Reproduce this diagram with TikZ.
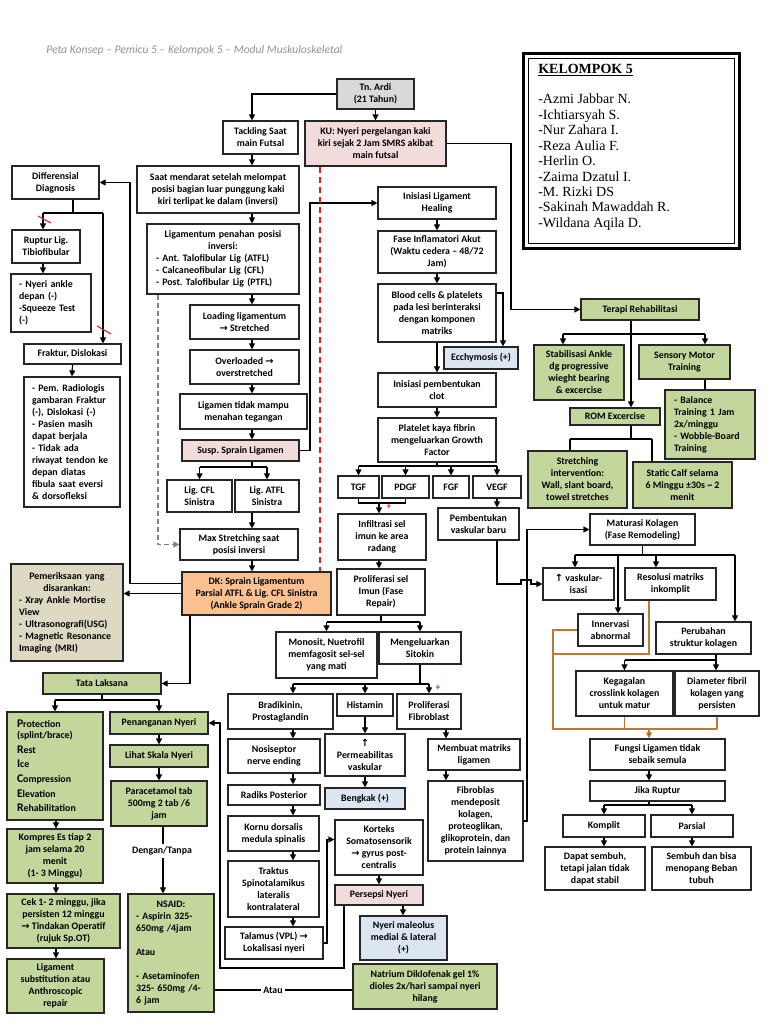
\documentclass[tikz,border=0pt]{standalone}
\usepackage{fontspec}
\setmainfont{Carlito}
\newfontfamily\serifnames{Liberation Serif}
\newfontfamily\symfont{DejaVu Sans}
\usetikzlibrary{arrows.meta,calc}
\definecolor{cgray}{HTML}{D9D9D9}
\definecolor{cpink}{HTML}{F2DCDB}
\definecolor{corange}{HTML}{FAC090}
\definecolor{ctan}{HTML}{DDD9C3}
\definecolor{cgreen}{HTML}{C3D69B}
\definecolor{cblue}{HTML}{DCE6F2}
\definecolor{cbrown}{HTML}{C0773A}
\definecolor{cbrownd}{HTML}{984807}
\definecolor{cred}{HTML}{E02020}
\frenchspacing
\newcommand\rarr{{\symfont →}}
\newcommand\uarr{{\symfont ↑}}
\newcommand\capl[1]{{\fontsize{8.8}{9}\selectfont #1}}
\tikzset{
 box/.style={draw=black!85, line width=0.9pt, fill=white, inner sep=1pt, align=center,
   font=\fontsize{7.4}{9}\selectfont\bfseries\frenchspacing},
 gbox/.style={fill=cgreen},
 pbox/.style={fill=cpink},
 bbox/.style={fill=cblue},
 obox/.style={fill=corange},
 tbox/.style={fill=ctan},
 graybox/.style={fill=cgray},
 ln/.style={draw=black, line width=0.9pt},
 arr/.style={draw=black, line width=0.9pt, -{Triangle[length=4.5pt,width=4.5pt]}},
 darr/.style={draw=black!50, line width=0.9pt, dash pattern=on 4pt off 2pt, -{Triangle[length=4.5pt,width=4.5pt]}},
 rdash/.style={draw=cred, line width=0.9pt, dash pattern=on 5pt off 2.5pt},
 brn/.style={draw=cbrown, line width=0.9pt},
 brnarr/.style={draw=cbrown, line width=0.9pt, -{Triangle[length=4.5pt,width=4.5pt,fill=cbrownd]}},
 lbl/.style={inner sep=1.5pt, font=\fontsize{7.4}{9}\selectfont\bfseries},
 plus/.style={text=cred, inner sep=0pt, font=\fontsize{7}{7}\selectfont\bfseries},
}
% [opts]{name}{x1}{y1}{x2}{y2}{text}
\newcommand\bx[7][]{%
 \pgfmathsetmacro\myW{(#5-#3)*0.75}\pgfmathsetmacro\myH{(#6-#4)*0.75}%
 \pgfmathsetmacro\myX{(#3+#5)/2}\pgfmathsetmacro\myY{(#4+#6)/2}%
 \node[box,#1,minimum width=\myW pt,minimum height=\myH pt] (#2) at (\myX,\myY) {#7};}
% [opts]{name}{x1}{y1}{x2}{y2}{sep}{text}
\newcommand\lbx[8][]{%
 \pgfmathsetmacro\myW{(#5-#3)*0.75}\pgfmathsetmacro\myH{(#6-#4)*0.75}%
 \pgfmathsetmacro\myX{(#3+#5)/2}\pgfmathsetmacro\myY{(#4+#6)/2}%
 \pgfmathsetmacro\myS{#7*0.75}\pgfmathsetmacro\myT{((#5-#3)-2*#7)*0.75}%
 \node[box,#1,align=left,inner xsep=\myS pt,text width=\myT pt,minimum width=\myW pt,minimum height=\myH pt] (#2) at (\myX,\myY) {#8};}
\begin{document}
\begin{tikzpicture}[x=0.75pt,y=-0.75pt]
\fill[white] (0,0) rectangle (768,1024);
\useasboundingbox (0,0) rectangle (768,1024);

\node[anchor=west, inner sep=0pt, font=\fontsize{8.7}{10}\selectfont\itshape, text=black!42] (hdr) at (46,50)
 {Peta Konsep – Pemicu 5 – Kelompok 5 – Modul Muskuloskeletal};

% Kelompok box
\draw[line width=2.3pt] (523.5,53.5) rectangle (739.5,248.5);
\draw[line width=0.7pt] (528.5,58.5) rectangle (734.5,243.5);
\node[anchor=north west, align=left, inner sep=0pt, font=\serifnames\fontsize{10.5}{11.6}\selectfont] (kel) at (538,64)
 {\textbf{\underline{KELOMPOK 5}}\\[11pt]-Azmi Jabbar N.\\-Ichtiarsyah S.\\-Nur Zahara I.\\-Reza Aulia F.\\-Herlin O.\\-Zaima Dzatul I.\\-M. Rizki DS\\-Sakinah Mawaddah R.\\-Wildana Aqila D.};

% ---------- boxes ----------
\bx[graybox]{tn}{337}{79}{414}{109}{Tn. Ardi\\(21 Tahun)}
\bx{tack}{223}{121}{298}{154}{Tackling Saat\\main Futsal}
\bx[pbox]{ku}{305}{121}{446}{166}{KU: Nyeri pergelangan kaki\\kiri sejak 2 Jam SMRS akibat\\main futsal}
\bx{saat}{137}{166}{299}{213}{Saat mendarat setelah melompat\\posisi bagian luar punggung kaki\\kiri terlipat ke dalam (inversi)}
\bx{diff}{12}{166}{99}{199}{Differensial\\Diagnosis}
\bx{rupt}{12}{230}{80}{263}{Ruptur Lig.\\Tibiofibular}
\lbx{nyank}{11}{274}{91}{332}{8}{- Nyeri ankle\\depan (-)\\-Squeeze Test\\(-)}
\bx{frak}{24}{344}{121}{364}{Fraktur, Dislokasi}
\lbx{pem}{24}{377}{120}{507}{8}{- Pem. Radiologis\\gambaran Fraktur\\(-), Dislokasi (-)\\- Pasien masih\\dapat berjala\\- Tidak ada\\riwayat tendon ke\\depan diatas\\fibula saat eversi\\\& dorsofleksi}
\lbx{ligp}{147}{224}{299}{294}{9}{\makebox[\linewidth]{Ligamentum penahan posisi}\\\makebox[\linewidth]{inversi:}\\- Ant. Talofibular Lig (ATFL)\\- Calcaneofibular Lig (CFL)\\- Post. Talofibular Lig (PTFL)}
\bx{load}{190}{305}{299}{339}{Loading ligamentum\\\rarr{} Stretched}
\bx{over}{190}{350}{299}{384}{Overloaded \rarr\\overstretched}
\bx{ltm}{180}{394}{307}{429}{Ligamen tidak mampu\\menahan tegangan}
\bx[pbox]{susp}{182}{440}{299}{461}{Susp. Sprain Ligamen}
\bx{cfl}{167}{480}{232}{512}{Lig. CFL\\Sinistra}
\bx{atfl}{235}{480}{299}{512}{Lig. ATFL\\Sinistra}
\bx{maxs}{180}{529}{298}{560}{Max Stretching saat\\posisi inversi}
\bx[obox]{dk}{182}{572}{331}{615}{DK: Sprain Ligamentum\\Parsial ATFL \& Lig. CFL Sinistra\\(Ankle Sprain Grade 2)}
\lbx[tbox]{pmr}{11}{564}{123}{661}{8}{\makebox[\linewidth]{Pemeriksaan yang}\\\makebox[\linewidth]{disarankan:}\\- Xray Ankle Mortise\\View\\- Ultrasonografi(USG)\\- Magnetic Resonance\\Imaging (MRI)}
\bx[gbox]{tata}{43}{673}{161}{694}{Tata Laksana}
\lbx[gbox]{prot}{7}{712}{103}{820}{10}{\capl{P}rotection\\[-1pt](splint/brace)\\[2pt]\capl{R}est\\[2pt]\capl{I}ce\\[2pt]\capl{C}ompression\\[2pt]\capl{E}levation\\[2pt]\capl{R}ehabilitation}
\bx[gbox]{penn}{110}{712}{208}{734}{Penanganan Nyeri}
\bx[gbox]{lsn}{110}{745}{208}{767}{Lihat Skala Nyeri}
\bx[gbox]{para}{111}{781}{207}{826}{Paracetamol tab\\500mg 2 tab /6\\jam}
\lbx[gbox]{nsaid}{128}{894}{214}{1012}{8}{\makebox[\linewidth]{NSAID:}\\- Aspirin 325-\\650mg /4jam\\[9pt]Atau\\[9pt]- Asetaminofen\\325- 650mg /4-\\6 jam}
\bx[gbox]{komp}{7}{829}{103}{883}{Kompres Es tiap 2\\jam selama 20\\menit\\(1- 3 Minggu)}
\bx[gbox]{cek}{7}{894}{120}{948}{Cek 1- 2 minggu, jika\\persisten 12 minggu\\\rarr{} Tindakan Operatif\\(rujuk Sp.OT)}
\bx[gbox]{ligs}{7}{959}{104}{1013}{Ligament\\substitution atau\\Anthroscopic\\repair}
\bx[gbox]{natr}{353}{964}{497}{1009}{Natrium Diklofenak gel 1\%\\dioles 2x/hari sampai nyeri\\hilang}

\bx{ilh}{378}{187}{496}{219}{Inisiasi Ligament\\Healing}
\bx{fia}{378}{231}{496}{273}{Fase Inflamatori Akut\\(Waktu cedera – 48/72\\Jam)}
\bx{bcp}{378}{284}{496}{342}{Blood cells \& platelets\\pada lesi berinteraksi\\dengan komponen\\matriks}
\bx[bbox]{ecc}{444}{347}{518}{369}{Ecchymosis (+)}
\bx{ipc}{378}{373}{496}{407}{Inisiasi pembentukan\\clot}
\bx{pkf}{378}{418}{496}{462}{Platelet kaya fibrin\\mengeluarkan Growth\\Factor}
\bx{tgf}{338}{476}{379}{498}{TGF}
\bx{pdgf}{382}{476}{429}{498}{PDGF}
\bx{fgf}{433}{476}{469}{498}{FGF}
\bx{vegf}{473}{476}{521}{498}{VEGF}
\bx{inf}{338}{514}{426}{560}{Infiltrasi sel\\imun ke area\\radang}
\bx{psi}{337}{569}{425}{615}{Proliferasi sel\\Imun (Fase\\Repair)}
\bx{mon}{276}{632}{377}{678}{Monosit, Nuetrofil\\memfagosit sel-sel\\yang mati}
\bx{msit}{379}{632}{461}{664}{Mengeluarkan\\Sitokin}
\bx{brad}{228}{694}{333}{729}{Bradikinin,\\Prostaglandin}
\bx{hist}{337}{694}{393}{716}{Histamin}
\bx{pfib}{397}{694}{461}{729}{Proliferasi\\Fibroblast}
\bx{nos}{228}{739}{320}{773}{Nosiseptor\\nerve ending}
\bx{perm}{325}{734}{405}{776}{\uarr\\Permeabilitas\\vaskular}
\bx[bbox]{beng}{325}{788}{405}{809}{Bengkak (+)}
\bx{mml}{428}{739}{520}{770}{Membuat matriks\\ligamen}
\bx{fbm}{428}{781}{523}{861}{Fibroblas\\mendeposit\\kolagen,\\proteoglikan,\\glikoprotein, dan\\protein lainnya}
\bx{rad}{228}{785}{320}{805}{Radiks Posterior}
\bx{korn}{228}{816}{319}{851}{Kornu dorsalis\\medula spinalis}
\bx{trak}{228}{861}{319}{917}{Traktus\\Spinotalamikus\\lateralis\\kontralateral}
\bx{tal}{225}{927}{323}{959}{Talamus (VPL) \rarr\\Lokalisasi nyeri}
\bx{kort}{335}{820}{423}{875}{Korteks\\Somatosensorik\\\rarr{} gyrus post-\\centralis}
\bx[pbox]{pers}{335}{885}{423}{905}{Persepsi Nyeri}
\bx[bbox]{nml}{360}{916}{447}{960}{Nyeri maleolus\\medial \& lateral\\(+)}
\bx{pvb}{438}{508}{519}{540}{Pembentukan\\vaskular baru}

\bx{mk}{590}{514}{695}{545}{Maturasi Kolagen\\(Fase Remodeling)}
\bx{vask}{543}{568}{614}{600}{\uarr{} vaskular-\\isasi}
\bx{res}{625}{568}{716}{600}{Resolusi matriks\\inkomplit}
\bx{inn}{578}{614}{643}{646}{Innervasi\\abnormal}
\bx{pstr}{656}{622}{751}{654}{Perubahan\\struktur kolagen}
\bx{keg}{576}{671}{673}{716}{Kegagalan\\crosslink kolagen\\untuk matur}
\bx{diam}{675}{671}{759}{716}{Diameter fibril\\kolagen yang\\persisten}
\bx{fung}{590}{739}{725}{770}{Fungsi Ligamen tidak\\sebaik semula}
\bx{jr}{590}{781}{725}{801}{Jika Ruptur}
\bx{kom}{563}{815}{645}{837}{Komplit}
\bx{par}{651}{815}{733}{837}{Parsial}
\bx{dps}{545}{847}{645}{890}{Dapat sembuh,\\tetapi jalan tidak\\dapat stabil}
\bx{sdb}{652}{847}{751}{890}{Sembuh dan bisa\\menopang Beban\\tubuh}

\bx[gbox]{ter}{581}{299}{699}{320}{Terapi Rehabilitasi}
\bx[gbox]{stab}{534}{345}{624}{400}{Stabilisasi Ankle\\dg progressive\\wieght bearing\\\& excercise}
\bx[gbox]{smt}{639}{345}{730}{379}{Sensory Motor\\Training}
\lbx[gbox]{bal}{665}{390}{755}{459}{9}{- Balance\\Training 1 Jam\\2x/minggu\\- Wobble-Board\\Training}
\bx[gbox]{rom}{570}{408}{660}{425}{ROM Excercise}
\bx[gbox]{str}{528}{451}{627}{508}{Stretching\\intervention:\\Wall, slant board,\\towel stretches}
\bx[gbox]{scf}{633}{462}{732}{508}{Static Calf selama\\6 Minggu ±30s \textasciitilde{} 2\\menit}

% ---------- helper coordinates ----------
\coordinate (cA) at (252,0);
\coordinate (cB) at (130,0);
\coordinate (cD) at (158,0);
\coordinate (cE) at (310,0);
\coordinate (cF) at (190,0);
\coordinate (cH) at (56,0);
\coordinate (cI) at (163,0);
\coordinate (cJ) at (344,0);
\coordinate (cK) at (511,0);
\coordinate (cL) at (220,0);
\coordinate (cM) at (503,0);
\coordinate (cN) at (379,0);
\coordinate (cP) at (521,0);
\coordinate (cQ) at (527,0);
\coordinate (cS) at (293,0);
\coordinate (cT) at (446,0);
\coordinate (cU) at (327,0);
\coordinate (cV) at (403,0);
\coordinate (cR) at (320,0);
\coordinate (c43) at (43,0);
\coordinate (c73) at (73,0);
\coordinate (c103) at (103,0);
\coordinate (c553) at (553,0);
\coordinate (c563) at (563,0);
\coordinate (c570) at (570,0);
\coordinate (c575) at (575,0);
\coordinate (c618) at (618,0);
\coordinate (c631) at (631,0);
\coordinate (c649) at (649,0);
\coordinate (c652) at (652,0);
\coordinate (c656) at (656,0);
\coordinate (c705) at (705,0);
\coordinate (c716) at (716,0);
\coordinate (c735) at (735,0);
\coordinate (rD) at (0,213);
\coordinate (rS) at (0,467);
\coordinate (rG) at (0,700);
\coordinate (rK) at (0,968);
\coordinate (rP) at (0,466);
\coordinate (rN) at (0,503);
\coordinate (rQ) at (0,622);
\coordinate (rR) at (0,684);
\coordinate (rW) at (0,555);
\coordinate (rX) at (0,660);
\coordinate (rY) at (0,654);
\coordinate (rZ) at (0,729);
\coordinate (rJ) at (0,805);
\coordinate (rT) at (0,334);
\coordinate (rU) at (0,439);

% ---------- left column ----------
\draw[arr] (tn.west) -| (tack.north -| cA);
\draw[arr] (tn.south) -- (ku.north);
\foreach \a/\b in {tack/saat, saat/ligp, ligp/load, load/over, over/ltm, ltm/susp}
  \draw[arr] (\a.south -| cA) -- (\b.north -| cA);
\draw[ln] (susp.south -| cA) -- (cA |- rS);
\draw[ln] (cfl.north |- rS) -- (atfl.north |- rS);
\draw[arr] (cfl.north |- rS) -- (cfl.north);
\draw[arr] (atfl.north |- rS) -- (atfl.north);
\draw[arr] (atfl.south -| cA) -- (maxs.north -| cA);
\draw[arr] (maxs.south -| cA) -- (dk.north -| cA);
\draw[darr] (ligp.south -| cD) |- (maxs.west);
\draw[arr] (susp.east) -- (cE |- susp.east) -- (cE |- ilh.west) -- (ilh.west);
\draw[rdash] (ku.south -| cR) -- (dk.north -| cR);
\draw[arr] (ku.east) -- (cK |- ku.east) -- (cK |- ter.west) -- (ter.west);
\draw[arr] (dk.west) -- (dk.west -| pmr.east);
\coordinate (dkw) at ([yshift=7.5pt]dk.west);
\draw[arr] (dkw) -- (cB |- dkw) -- (cB |- diff.east) -- (diff.east);
\draw[arr] (dk.south -| cF) |- (tata.east);

% differential
\draw[ln] (diff.south -| c73) -- (c73 |- rD);
\draw[ln] (c43 |- rD) -- (c103 |- rD);
\draw[arr] (c43 |- rD) -- (rupt.north -| c43);
\draw[arr] (c103 |- rD) -- (frak.north -| c103);
\draw[arr] (rupt.south -| c43) -- (nyank.north -| c43);
\draw[arr] (frak.south) -- (pem.north);
\draw[cred, line width=0.8pt] (38,216) -- (51,223);
\draw[cred, line width=0.8pt] (97,326) -- (111,334);

% tata laksana
\draw[ln] (tata.south) -- (tata.south |- rG);
\draw[ln] (prot.north |- rG) -- (penn.north |- rG);
\draw[arr] (prot.north |- rG) -- (prot.north);
\draw[arr] (penn.north |- rG) -- (penn.north);
\foreach \a/\b in {prot/komp, komp/cek, cek/ligs}
  \draw[arr] (\a.south -| cH) -- (\b.north -| cH);
\draw[arr] (penn.south) -- (lsn.north);
\draw[arr] (lsn.south) -- (lsn.south |- para.north);
\node[lbl] (dt) at (162,851) {Dengan/Tanpa};
\draw[ln] (para.south -| cI) -- (dt.north -| cI);
\draw[arr] (dt.south -| cI) -- (nsaid.north -| cI);
\node[lbl] (atau) at (273,990) {Atau};
\draw[ln] (atau.west) -- (atau.west -| nsaid.east);
\draw[ln] (atau.east) -- (atau.east -| natr.west);
\draw[arr] (pers.south -| cJ) -- (cJ |- rK) -- (cL |- rK) -- (cL |- penn.east) -- (penn.east);

% ---------- central column ----------
\foreach \a/\b in {ilh/fia, fia/bcp, bcp/ipc, ipc/pkf}
  \draw[arr] (\a.south) -- (\b.north);
\coordinate (bce) at ([yshift=15pt]bcp.east);
\draw[arr] (bce) -- (cM |- bce) -- (cM |- ecc.north);
\draw[ln] (pkf.south) -- (pkf.south |- rP);
\draw[ln] (tgf.north |- rP) -- (vegf.north |- rP);
\foreach \n in {tgf,pdgf,fgf,vegf}
  \draw[arr] (\n.north |- rP) -- (\n.north);
\draw[ln] (tgf.south) -- (tgf.south |- rN) -- (pdgf.south |- rN) -- (pdgf.south);
\draw[arr] (cN |- rN) -- (inf.north -| cN);
\node[plus] (p1) at (389,507) {+};
\draw[arr] (vegf.south) -- (vegf.south |- pvb.north);
\draw[arr] (vegf.south |- pvb.south) -- (vegf.south |- vask.west) -- (cP |- vask.west) -- ++(0,-4) -- ++(10,0) -- ++(0,4) -- (vask.west);
\draw[arr] (fbm.east) -- (cQ |- fbm.east) -- (cQ |- mk.west) -- (mk.west);
\draw[arr] (inf.south -| cN) -- (psi.north -| cN);
\draw[ln] (psi.south) -- (psi.south |- rQ);
\draw[ln] (mon.north |- rQ) -- (msit.north |- rQ);
\draw[arr] (mon.north |- rQ) -- (mon.north);
\draw[arr] (msit.north |- rQ) -- (msit.north);
\draw[ln] (msit.south) -- (msit.south |- rR);
\draw[ln] (cS |- rR) -- (pfib.north |- rR);
\draw[arr] (cS |- rR) -- (brad.north -| cS);
\draw[arr] (hist.north |- rR) -- (hist.north);
\draw[arr] (pfib.north |- rR) -- (pfib.north);
\node[plus] (p2) at (438,688) {+};
\foreach \a/\b in {brad/nos, nos/rad, rad/korn, korn/trak, trak/tal}
  \draw[arr] (\a.south -| cS) -- (\b.north -| cS);
\draw[arr] (hist.south) -- (perm.north -| hist.south);
\draw[arr] (perm.south -| hist.south) -- (beng.north -| hist.south);
\draw[arr] (pfib.south -| cT) -- (mml.north -| cT);
\draw[arr] (mml.south -| cT) -- (fbm.north -| cT);
\coordinate (kw) at ([yshift=6pt]kort.west);
\draw[arr] (tal.east) -- (cU |- tal.east) -- (cU |- kw) -- (kw);
\draw[arr] (kort.south) -- (pers.north);
\draw[arr] (pers.south -| cV) -- (nml.north -| cV);

% ---------- remodeling ----------
\draw[ln] (mk.south) -- (mk.south |- rW);
\draw[ln] (c575 |- rW) -- (c735 |- rW);
\draw[arr] (c575 |- rW) -- (vask.north -| c575);
\draw[arr] (c618 |- rW) -- (inn.north -| c618);
\draw[arr] (c656 |- rW) -- (res.north -| c656);
\draw[arr] (c735 |- rW) -- (pstr.north -| c735);
\draw[ln] (pstr.south -| c716) -- (c716 |- rX);
\draw[ln] (keg.north |- rX) -- (c716 |- rX);
\draw[arr] (keg.north |- rX) -- (keg.north);
\draw[arr] (c716 |- rX) -- (diam.north -| c716);
\draw[brn] (res.south -| c649) -- (c649 |- rY) -- (c553 |- rY);
\draw[brn] (inn.west) -- (c553 |- inn.west) -- (c553 |- rZ) -- (diam.south |- rZ);
\draw[brn] (keg.south) -- (keg.south |- rZ);
\draw[brn] (diam.south) -- (diam.south |- rZ);
\draw[brnarr] (c649 |- rZ) -- (fung.north -| c649);
\draw[arr] (fung.south -| c649) -- (jr.north -| c649);
\draw[ln] (jr.south -| c649) -- (c649 |- rJ);
\draw[ln] (kom.north |- rJ) -- (par.north |- rJ);
\draw[arr] (kom.north |- rJ) -- (kom.north);
\draw[arr] (par.north |- rJ) -- (par.north);
\draw[arr] (kom.south) -- (kom.south |- dps.north);
\draw[arr] (par.south) -- (par.south |- sdb.north);

% ---------- rehab ----------
\draw[ln] (ter.south -| c631) -- (c631 |- rT);
\draw[ln] (c563 |- rT) -- (c705 |- rT);
\draw[arr] (c563 |- rT) -- (stab.north -| c563);
\draw[arr] (c705 |- rT) -- (smt.north -| c705);
\draw[arr] (c631 |- rT) -- (rom.north -| c631);
\draw[ln] (smt.south -| c705) -- (bal.north -| c705);
\draw[ln] (rom.south -| c631) -- (c631 |- rU);
\draw[ln] (c570 |- rU) -- (c652 |- rU);
\draw[ln] (c570 |- rU) -- (str.north -| c570);
\draw[ln] (c652 |- rU) -- (scf.north -| c652);
\end{tikzpicture}
\end{document}
